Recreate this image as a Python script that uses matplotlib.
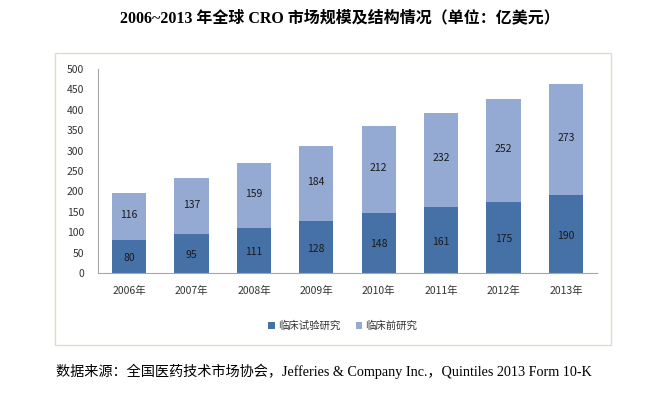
import matplotlib.pyplot as plt
from matplotlib.patches import Rectangle
import numpy as np

# 数据
years = ['2006年', '2007年', '2008年', '2009年', '2010年', '2011年', '2012年', '2013年']
clinical = [80, 95, 111, 128, 148, 161, 175, 190]
preclinical = [116, 137, 159, 184, 212, 232, 252, 273]

c_dark = '#4571A7'
c_light = '#95AAD3'
cjk = ['Noto Sans CJK SC', 'DejaVu Sans']
serif = ['Liberation Serif', 'Noto Sans CJK SC']

fig = plt.figure(figsize=(6.48, 3.96), dpi=100)

# 外框
fig.patches.append(Rectangle((55/648, 1-345/396), (611-55)/648, (345-53)/396,
                             transform=fig.transFigure, fill=False,
                             edgecolor='#DCDCCF', linewidth=1.0))

ax = fig.add_axes([98/648, 1-273/396, (597-98)/648, (273-69)/396])
x = np.arange(len(years))
w = 0.55
ax.bar(x, clinical, w, color=c_dark, label='临床试验研究')
ax.bar(x, preclinical, w, bottom=clinical, color=c_light, label='临床前研究')

for i in range(len(years)):
    ax.text(x[i], clinical[i] / 2 - 4, str(clinical[i]), ha='center', va='center',
            fontsize=7.5, color='#1a1a1a', family=cjk)
    ax.text(x[i], clinical[i] + preclinical[i] / 2 + 4, str(preclinical[i]), ha='center',
            va='center', fontsize=7.5, color='#1a1a1a', family=cjk)

ax.set_xlim(-0.5, 7.5)
ax.set_ylim(0, 500)
ax.set_yticks(range(0, 501, 50))
ax.set_xticks(x)
ax.set_xticklabels(years, family=cjk, fontsize=7.5, color='#333333')
for lbl in ax.get_yticklabels():
    lbl.set_family(cjk)
    lbl.set_fontsize(7.5)
    lbl.set_color('#333333')
ax.tick_params(axis='both', length=0, pad=10)
ax.tick_params(axis='x', pad=9)
ax.spines['top'].set_visible(False)
ax.spines['right'].set_visible(False)
ax.spines['left'].set_color('#A6A6A6')
ax.spines['bottom'].set_color('#A6A6A6')

leg = ax.legend(loc='center', bbox_to_anchor=(0.49, -0.26), ncol=2, frameon=False,
                prop={'family': cjk, 'size': 7.5}, handlelength=0.6, handleheight=0.6,
                handletextpad=0.3, columnspacing=1.5)
for t in leg.get_texts():
    t.set_color('#333333')

fig.text(340/648, 1-18/396, '2006~2013 年全球 CRO 市场规模及结构情况（单位：亿美元）',
         ha='center', va='center', fontsize=11.5, fontweight='bold', family=serif)
fig.text(56/648, 1-371/396, '数据来源：全国医药技术市场协会，Jefferies & Company Inc.，Quintiles 2013 Form 10-K',
         ha='left', va='center', fontsize=10.2, family=serif)

fig.savefig('out.png', dpi=100)
